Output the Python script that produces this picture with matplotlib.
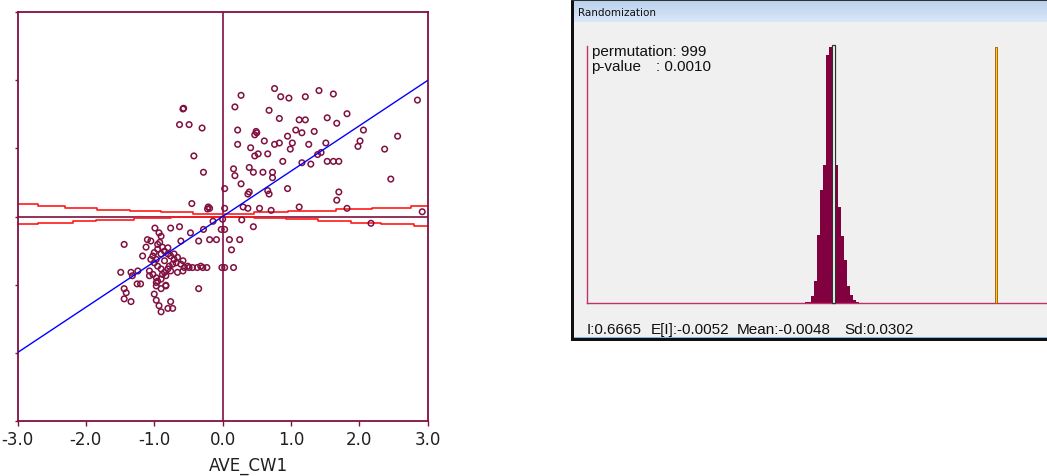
import numpy as np
import matplotlib
matplotlib.use('Agg')
import matplotlib.pyplot as plt
from matplotlib.patches import Rectangle

W, H = 1047, 477

# ---------------- Moran scatter plot data ----------------
x_vals = [-0.58, -0.57, -0.63, -0.49, -0.30, -0.42, -0.28, -0.45, -0.21, -0.22, -0.19,
          0.76, 0.27, 0.85, 0.97, 1.21, 1.41, 1.62, 0.18, 0.68, 2.85, 0.83, 1.12, 1.21, 1.53,
          1.82, 1.67, 0.22, 1.07, 0.49, 0.47, 0.50, 0.95, 1.16, 1.34, 2.06, 2.56, 0.22, 0.76,
          0.83, 1.02, 0.61, 1.26, 1.51, 2.01, 1.98, 0.41, 0.99, 0.52, 0.47, 0.66, 1.44, 1.39,
          2.37, 0.88, 1.16, 1.29, 1.53, 1.62, 1.70, 0.16, 0.39, 0.18, 0.45, 0.59, 0.73, 0.73,
          2.46, 0.27, 0.03, 0.39, 0.37, 0.66, 0.68, 0.95, 1.70, 1.67, 0.30, 0.37, 0.54, 0.71,
          1.12, 1.82, 2.92, 0.03, 2.17,
          0.00, 0.28, 0.45, -0.02, 0.03, -0.28, -0.47, -0.14, -0.19, -0.09, 0.10, 0.25, -0.35,
          0.13, -0.01, 0.03, 0.16, -0.35,
          -0.99, -0.76, -0.63, -0.93, -0.90, -1.10, -1.05, -0.95, -0.61, -1.44, -1.00, -0.95,
          -0.80, -0.85, -0.90, -1.02, -1.17, -0.97, -0.76, -0.71, -0.66, -0.58, -0.61, -0.51,
          -0.44, -0.37, -0.32, -0.29, -0.23, -1.05, -1.00, -0.95, -0.90, -0.85, -0.80, -0.78,
          -0.73, -0.68, -0.58, -0.56, -0.49, -1.49, -1.34, -1.32, -1.24, -1.25, -1.20, -1.07,
          -1.02, -0.97, -0.95, -0.97, -0.90, -0.83, -0.88, -0.83, -1.44, -1.41, -1.44, -1.34,
          -1.00, -0.97, -0.93, -0.90, -0.80, -0.76, -0.73,
          -0.80, -0.71, -0.85, -0.90, -0.76, -0.66, -1.07, -0.97, -0.83, -0.88, -0.92, -1.12]
y_vals = [1.58, 1.59, 1.35, 1.35, 1.30, 0.89, 0.65, 0.19, 0.14, 0.11, 0.12,
          1.88, 1.78, 1.76, 1.74, 1.76, 1.85, 1.80, 1.61, 1.56, 1.71, 1.44, 1.42, 1.42, 1.45,
          1.51, 1.37, 1.27, 1.27, 1.25, 1.20, 1.23, 1.18, 1.23, 1.25, 1.27, 1.18, 1.06, 1.06,
          1.08, 1.08, 1.11, 1.06, 1.08, 1.11, 1.03, 1.01, 0.99, 0.92, 0.89, 0.92, 0.94, 0.91,
          0.99, 0.81, 0.79, 0.77, 0.81, 0.81, 0.81, 0.70, 0.72, 0.60, 0.65, 0.65, 0.65, 0.57,
          0.55, 0.48, 0.41, 0.36, 0.33, 0.38, 0.33, 0.41, 0.36, 0.24, 0.14, 0.12, 0.12, 0.09,
          0.14, 0.12, 0.07, 0.12, -0.10,
          -0.04, -0.05, -0.15, -0.19, -0.19, -0.19, -0.24, -0.07, -0.34, -0.34, -0.34, -0.34, -0.36,
          -0.49, -0.75, -0.75, -0.75, -1.06,
          -0.17, -0.17, -0.15, -0.24, -0.29, -0.34, -0.36, -0.41, -0.36, -0.41, -0.53, -0.48,
          -0.46, -0.51, -0.55, -0.58, -0.58, -0.63, -0.58, -0.55, -0.60, -0.65, -0.70, -0.73,
          -0.75, -0.75, -0.73, -0.75, -0.75, -0.63, -0.68, -0.73, -0.77, -0.82, -0.77, -0.73,
          -0.70, -0.68, -0.80, -0.75, -0.75, -0.82, -0.82, -0.87, -0.80, -0.99, -0.99, -0.80,
          -0.85, -0.90, -0.95, -1.02, -1.06, -1.01, -0.85, -0.87, -1.06, -1.12, -1.21, -1.25,
          -1.14, -1.23, -1.31, -1.40, -1.35, -1.25, -1.35,
          -0.55, -0.63, -0.65, -0.92, -0.80, -0.82, -0.87, -0.97, -1.02, -0.45, -0.38, -0.45]
morans_i = 0.6665

upper_x = [-3.0, -2.70, -2.31, -1.83, -1.36, -0.90, -0.44, 0.46, 0.95, 1.66, 2.19, 2.75, 3.0]
upper_y = [0.18, 0.15, 0.12, 0.10, 0.08, 0.06, 0.035, 0.06, 0.085, 0.11, 0.12, 0.16, 0.16]
lower_x = [-3.0, -2.70, -2.19, -1.85, -1.29, -0.76, 0.46, 0.93, 1.39, 1.88, 2.31, 2.80, 3.0]
lower_y = [-0.115, -0.09, -0.065, -0.05, -0.025, -0.01, -0.02, -0.04, -0.065, -0.09, -0.115, -0.14, -0.14]

x_ticks = [-3, -2, -1, 0, 1, 2, 3]
x_tick_labels = ['-3.0', '-2.0', '-1.0', '0.0', '1.0', '2.0', '3.0']
y_ticks = [-3, -2, -1, 0, 1, 2, 3]
x_label = 'AVE_CW1'

# ---------------- Randomization data ----------------
perm_counts = [1, 1, 5, 16, 49, 81, 99, 178, 184, 117, 99, 69, 48, 31, 12, 6, 2, 1]
bin_start = -0.1225
bin_width = 0.0123
n_perm = 999
p_value = 0.0010
expected_i = -0.0052
mean_perm = -0.0048
sd_perm = 0.0302

maroon = '#801040'


def fx(px):
    return px / W


def fy(py):
    return 1 - py / H


fig = plt.figure(figsize=(W / 100, H / 100), dpi=100)
fig.patch.set_facecolor('white')

# ---------------- Left: Moran scatter ----------------
L, R, T, B = 17.5, 427.7, 13.3, 421.7
ax = fig.add_axes([fx(L), fy(B), (R - L) / W, (B - T) / H])
ax.set_xlim(-3, 3)
ax.set_ylim(-3, 3)
ax.scatter(x_vals, y_vals, s=16, facecolors='none', edgecolors=maroon, linewidths=1.1, zorder=3)
ax.axvline(0, color=maroon, lw=1.2, zorder=2)
ax.axhline(0, color=maroon, lw=1.2, zorder=2)
ax.step(upper_x, upper_y, where='post', color='#ff1a1a', lw=1.2, zorder=2.5)
ax.step(lower_x, lower_y, where='post', color='#ff1a1a', lw=1.2, zorder=2.5)
xs = np.array([-3.0, 3.0])
ax.plot(xs, morans_i * xs, color='#0000ff', lw=1.0, zorder=4)
for s in ax.spines.values():
    s.set_color(maroon)
    s.set_linewidth(1.3)
ax.set_xticks(x_ticks)
ax.set_xticklabels(x_tick_labels)
ax.set_yticks(y_ticks)
ax.set_yticklabels([])
ax.tick_params(axis='x', direction='out', length=3.8, width=1, color=maroon,
               labelsize=12, labelcolor='#202020', pad=3)
ax.tick_params(axis='y', direction='out', length=2, width=1, color=maroon)
ax.set_xlabel(x_label, fontsize=12, color='#202020', x=0.562, labelpad=6)

# ---------------- Right: Randomization window ----------------
wx0, wy1 = 571, 342
aw = fig.add_axes([fx(wx0), fy(wy1), (W - wx0) / W, wy1 / H])
aw.set_xlim(wx0, W)
aw.set_ylim(wy1, 0)
aw.axis('off')
aw.add_patch(Rectangle((wx0, 0.5), W - wx0, wy1 - 0.5, facecolor='#f0f0f0', edgecolor='none'))
grad = np.linspace(0, 1, 50).reshape(-1, 1)
top_c = np.array([0.73, 0.82, 0.93])
bot_c = np.array([0.86, 0.91, 0.97])
img = top_c[None, None, :] * (1 - grad[:, :, None]) + bot_c[None, None, :] * grad[:, :, None]
aw.imshow(img, extent=[wx0 + 2, W, 23, 2], aspect='auto', zorder=1)
aw.set_xlim(wx0, W)
aw.set_ylim(wy1, 0)
aw.add_patch(Rectangle((wx0, 0.5), 2.5, wy1 - 0.5, facecolor='#101010', edgecolor='none', zorder=2))
aw.add_patch(Rectangle((wx0, 0.5), W - wx0, 1.5, facecolor='#303030', edgecolor='none', zorder=2))
aw.add_patch(Rectangle((wx0, 339.3), W - wx0, 2.7, facecolor='#101010', edgecolor='none', zorder=2))
aw.add_patch(Rectangle((wx0 + 2.5, 337.8), W - wx0, 1.5, facecolor='#7fb4dc', edgecolor='none', zorder=2))
aw.text(578, 13.5, 'Randomization', fontsize=7.5, color='#101010', va='center', ha='left',
        family='DejaVu Sans', zorder=3)

tf = dict(fontsize=11, color='#101010', va='center', ha='left', family='Liberation Sans', zorder=3)
aw.text(591.5, 52, f'permutation: {n_perm}', **tf)
aw.text(591.5, 67, 'p-value', **tf)
aw.text(656, 67, f': {p_value:.4f}', **tf)
aw.text(586.5, 330, f'I:{morans_i:.4f}', **tf)
aw.text(650.5, 330, f'E[I]:{expected_i:.4f}', **tf)
aw.text(736.5, 330, f'Mean:{mean_perm:.4f}', **tf)
aw.text(844, 330, f'Sd:{sd_perm:.4f}', **tf)

# histogram axes
hx0, hy0, hy1 = 587, 304, 47
px_per_unit = 242.0
ha = fig.add_axes([fx(hx0), fy(hy0), (W - hx0) / W, (hy0 - hy1) / H])
ha.set_facecolor('none')
ha.set_xlim(mean_perm - (833.5 - hx0) / px_per_unit, mean_perm + (W - 833.5) / px_per_unit)
ha.set_ylim(0, 184.5)
edges = bin_start + bin_width * np.arange(len(perm_counts) + 1)
ha.stairs(perm_counts, edges, fill=True, color='#800040', linewidth=0)
ha.add_patch(Rectangle((mean_perm - 0.005, 0), 0.010, 185.5, facecolor='white',
                       edgecolor='#303030', lw=0.9, clip_on=False, zorder=3))
ha.add_patch(Rectangle((morans_i - 0.004, 0), 0.008, 183.5, facecolor='#ffd000',
                       edgecolor='#a05010', lw=0.6, clip_on=False, zorder=3))
for k in ('top', 'right'):
    ha.spines[k].set_visible(False)
for k in ('left', 'bottom'):
    ha.spines[k].set_color('#c0306a')
    ha.spines[k].set_linewidth(1.0)
ha.set_xticks([])
ha.set_yticks([])

fig.savefig('out.png', dpi=100)
